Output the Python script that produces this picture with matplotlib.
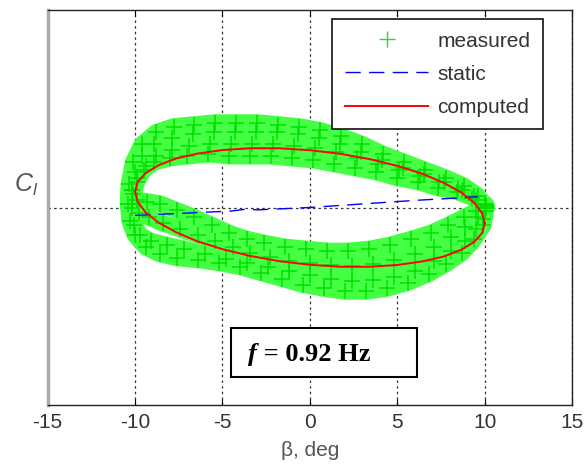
import matplotlib
matplotlib.use("Agg")
import matplotlib.pyplot as plt
from matplotlib.lines import Line2D
from matplotlib.patches import Rectangle
from matplotlib.offsetbox import TextArea, HPacker, AnchoredOffsetbox

plt.rcParams['font.family'] = ['Liberation Sans', 'DejaVu Sans']
plt.rcParams['axes.unicode_minus'] = False
plt.rcParams['mathtext.fontset'] = 'custom'
plt.rcParams['mathtext.it'] = 'Liberation Sans:italic'
plt.rcParams['mathtext.rm'] = 'Liberation Sans'

# ---------------- data ----------------
beta_ticks = [-15, -10, -5, 0, 5, 10, 15]

# measured: four recorded cycles (two close round the left tip, two cut inside it)
meas_x1 = [10.1, 9.6, 8.8, 7.8, 6.6, 5.4, 4.2, 3.0, 1.8, 0.6, -0.6, -1.8, -3.0, -4.2, -5.4, -6.6,
           -7.8, -8.8, -9.6, -10.1, -10.35, -10.4, -10.3, -10.0, -9.4, -8.6, -7.6, -6.4, -5.2,
           -4.0, -2.8, -1.6, -0.4, 0.8, 2.0, 3.2, 4.4, 5.6, 6.8, 7.8, 8.7, 9.4, 9.9, 10.1]
meas_y1 = [0.0, 0.06, 0.11, 0.15, 0.19, 0.23, 0.27, 0.32, 0.36, 0.39, 0.41, 0.42, 0.43, 0.43, 0.43,
           0.42, 0.41, 0.38, 0.32, 0.23, 0.12, 0.02, -0.07, -0.14, -0.20, -0.235, -0.255, -0.265,
           -0.28, -0.30, -0.33, -0.36, -0.39, -0.41, -0.425, -0.425, -0.41, -0.38, -0.335, -0.285,
           -0.23, -0.16, -0.09, 0.0]

meas_x2 = [10.0, 9.5, 8.7, 7.7, 6.5, 5.3, 4.1, 2.9, 1.7, 0.5, -0.7, -1.9, -3.1, -4.3, -5.5, -6.7,
           -7.9, -8.9, -9.6, -10.0, -10.2, -10.2, -10.05, -9.7, -9.1, -8.2, -7.2, -6.0, -4.8,
           -3.6, -2.4, -1.2, 0.0, 1.2, 2.4, 3.6, 4.8, 6.0, 7.1, 8.1, 8.9, 9.5, 9.9, 10.0]
meas_y2 = [-0.02, 0.04, 0.09, 0.13, 0.17, 0.20, 0.24, 0.28, 0.32, 0.35, 0.37, 0.38, 0.38, 0.38,
           0.38, 0.37, 0.35, 0.32, 0.26, 0.18, 0.09, 0.0, -0.09, -0.14, -0.17, -0.19, -0.21,
           -0.235, -0.26, -0.28, -0.30, -0.32, -0.34, -0.36, -0.37, -0.365, -0.35, -0.32, -0.27,
           -0.22, -0.17, -0.11, -0.06, -0.02]

meas_x3 = [10.1, 9.4, 8.5, 7.4, 6.3, 5.1, 3.9, 2.7, 1.5, 0.3, -0.9, -2.1, -3.3, -4.5, -5.7, -6.9,
           -7.9, -8.8, -9.4, -9.9, -10.2, -10.2, -9.8, -9.2, -8.4, -7.4, -6.4, -5.4, -4.4, -3.4,
           -2.3, -1.2, 0.0, 1.2, 2.4, 3.6, 4.8, 6.0, 7.1, 8.1, 8.9, 9.6, 10.1]
meas_y3 = [0.01, 0.06, 0.10, 0.13, 0.16, 0.19, 0.22, 0.25, 0.28, 0.30, 0.31, 0.32, 0.32, 0.32,
           0.32, 0.31, 0.29, 0.26, 0.21, 0.15, 0.09, 0.02, -0.03, -0.05, -0.08, -0.11, -0.14,
           -0.17, -0.20, -0.23, -0.25, -0.27, -0.28, -0.29, -0.295, -0.285, -0.265, -0.235, -0.20,
           -0.15, -0.10, -0.05, 0.01]

meas_x4 = [10.0, 9.3, 8.4, 7.3, 6.2, 5.0, 3.8, 2.6, 1.4, 0.2, -1.0, -2.2, -3.4, -4.6, -5.8, -7.0,
           -8.0, -8.9, -9.5, -9.9, -10.1, -9.9, -9.3, -8.6, -7.6, -6.6, -5.6, -4.6, -3.6, -2.6,
           -1.4, -0.2, 1.0, 2.2, 3.4, 4.6, 5.8, 6.9, 7.9, 8.8, 9.5, 10.0]
meas_y4 = [0.02, 0.05, 0.08, 0.10, 0.13, 0.15, 0.18, 0.20, 0.22, 0.24, 0.25, 0.26, 0.26, 0.26,
           0.27, 0.26, 0.25, 0.23, 0.19, 0.13, 0.07, 0.04, 0.03, 0.02, -0.015, -0.05, -0.09, -0.13,
           -0.16, -0.18, -0.20, -0.21, -0.22, -0.22, -0.21, -0.19, -0.16, -0.13, -0.09, -0.05,
           -0.02, 0.02]

meas_x = [meas_x1, meas_x2, meas_x3, meas_x4]
meas_y = [meas_y1, meas_y2, meas_y3, meas_y4]

static_x = [-10.0, -8.0, -6.0, -4.5, -3.6, -3.0, -1.5, 0.0, 2.0, 4.0, 6.0, 8.0, 9.6]
static_y = [-0.040, -0.032, -0.024, -0.018, -0.008, -0.012, -0.006, 0.0, 0.012, 0.024, 0.036, 0.046, 0.055]

comp_x = [10.0, 9.85, 9.40, 8.66, 7.66, 6.43, 5.0, 3.42, 1.74, 0.0, -1.74, -3.42, -5.0, -6.43,
          -7.66, -8.66, -9.40, -9.85, -10.0, -9.85, -9.40, -8.66, -7.66, -6.43, -5.0, -3.42,
          -1.74, 0.0, 1.74, 3.42, 5.0, 6.43, 7.66, 8.66, 9.40, 9.85, 10.0]
comp_y = [-0.080, -0.029, 0.024, 0.076, 0.125, 0.171, 0.211, 0.245, 0.272, 0.290, 0.300, 0.300,
          0.291, 0.273, 0.248, 0.214, 0.174, 0.129, 0.080, 0.029, -0.024, -0.076, -0.125, -0.171,
          -0.211, -0.245, -0.272, -0.290, -0.300, -0.300, -0.291, -0.273, -0.248, -0.214, -0.174,
          -0.129, -0.080]

freq_label = "0.92 Hz"

# ---------------- plot ----------------
fig = plt.figure(figsize=(5.85, 4.70), dpi=100)
ax = fig.add_axes([0.0814, 0.1383, 0.8966, 0.8404])

for mx, my in zip(meas_x, meas_y):
    ax.plot(mx, my, color='#44ff44', lw=12, solid_joinstyle='round', solid_capstyle='round', zorder=2)
for mx, my in zip(meas_x, meas_y):
    ax.plot(mx, my, ls='none', marker='+', ms=11, mew=1.1, color='#00e000', zorder=2.1)

h_static, = ax.plot(static_x, static_y, color='#0000ff', lw=1.0, dashes=(11, 6), zorder=3)
h_comp, = ax.plot(comp_x, comp_y, color='#ff0000', lw=1.4, zorder=4)

ax.set_xlim(-15, 15)
ax.set_ylim(-1, 1)
ax.set_xticks(beta_ticks)
ax.set_xticklabels([str(t) for t in beta_ticks])
ax.set_yticks([0])
ax.set_yticklabels([''])
ax.tick_params(axis='x', direction='in', length=4, width=0.8, top=True, labelsize=15,
               labelcolor='#333333', pad=6)
ax.tick_params(axis='y', direction='in', length=0)
ax.grid(True, color='#333333', lw=0.9, ls=(0, (2, 2.5)))
ax.set_axisbelow(True)

for side in ['top', 'right', 'bottom']:
    ax.spines[side].set_color('#222222')
    ax.spines[side].set_linewidth(1.0)
ax.spines['left'].set_color('#aaaaaa')
ax.spines['left'].set_linewidth(2.5)

ax.set_xlabel('β, deg', fontsize=15, color='#555555', labelpad=6)
ax.set_ylabel(r'$C_l$', fontsize=18, color='#555555', rotation=0)
ax.yaxis.set_label_coords(-0.04, 0.525)

h_meas = Line2D([], [], ls='none', marker='+', ms=12, mew=1.0, color='#22dd22')
leg = ax.legend([h_meas, h_static, h_comp], ['measured', 'static', 'computed'],
                loc='upper right', bbox_to_anchor=(0.9447, 0.977), borderaxespad=0,
                fontsize=15, handlelength=4.0, handletextpad=0.45, labelspacing=0.68,
                numpoints=1, fancybox=False, framealpha=1, borderpad=0.6)
leg.get_frame().set_edgecolor('#111111')
leg.get_frame().set_linewidth(1.2)
for t in leg.get_texts():
    t.set_color('#333333')

ax.add_patch(Rectangle((0.35, 0.071), 0.355, 0.124, transform=ax.transAxes, fill=True,
                       facecolor='white', edgecolor='black', lw=1.5, zorder=5))
serif = dict(family=['Liberation Serif', 'DejaVu Serif'], weight='bold', size=19)
ta_f = TextArea('f', textprops=dict(style='italic', **serif))
ta_rest = TextArea(' = ' + freq_label, textprops=serif)
box = AnchoredOffsetbox(loc='center left', child=HPacker(children=[ta_f, ta_rest], pad=0, sep=0),
                        bbox_to_anchor=(0.382, 0.127), bbox_transform=ax.transAxes,
                        frameon=False, pad=0, borderpad=0)
box.set_zorder(6)
ax.add_artist(box)

fig.savefig('out.png', dpi=100)
